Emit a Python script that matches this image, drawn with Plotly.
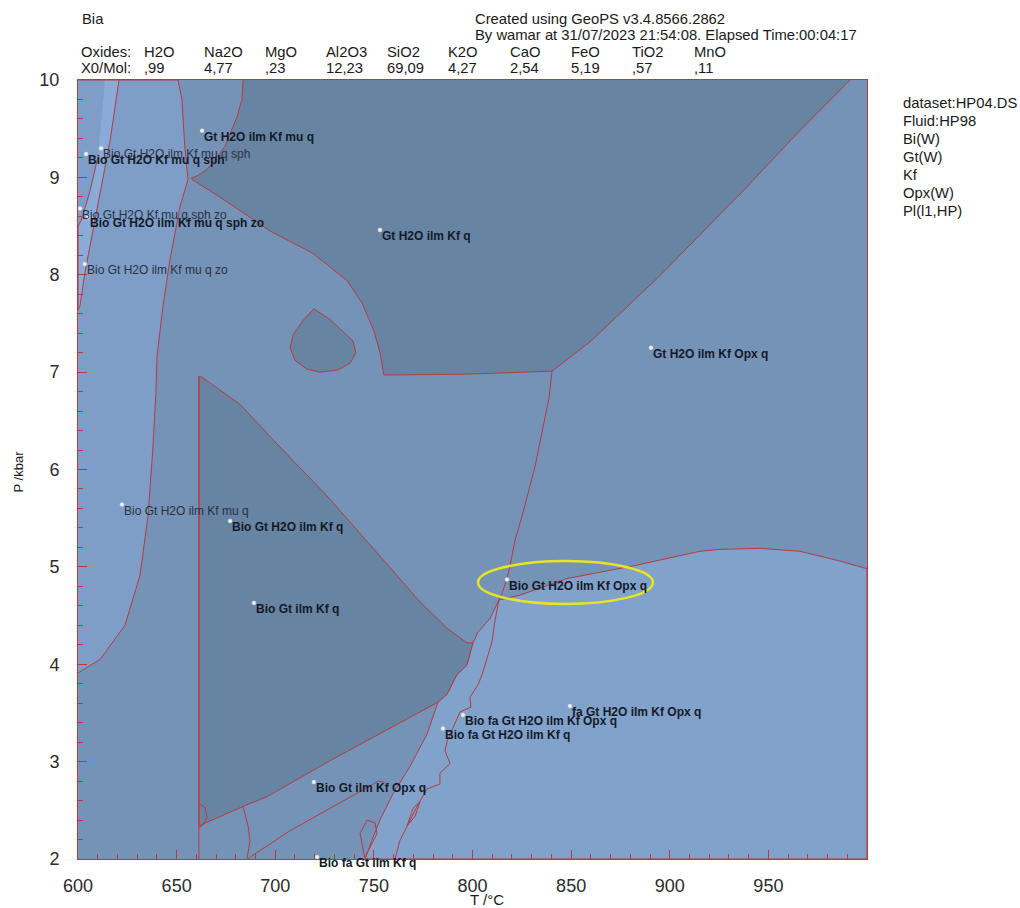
import plotly.graph_objects as go

# ---------------------------------------------------------------
# Pseudosection field boundaries (T in °C, P in kbar)
# ---------------------------------------------------------------
# Bio Gt H2O ilm Kf mu q (low-T field, left of the mu-out curve)
mu_field_T = [600, 650.7, 652.7, 654.2, 655.8, 651.7, 646.6, 643.1, 640.1, 639.5,
              638.0, 635.5, 631.4, 623.8, 611.2, 600]
mu_field_P = [10, 10, 9.80, 9.29, 8.98, 8.70, 8.15, 7.68, 7.17, 6.79,
              6.23, 5.52, 4.91, 4.40, 4.05, 3.91]

# sph-bearing strip near the left margin
sph_strip_T = [613.7, 620.8, 616.2, 611.2, 607.1, 603.5, 601.0, 600, 600, 602.0, 606.1, 610.1]
sph_strip_P = [10, 10, 9.37, 8.83, 8.42, 8.02, 7.68, 7.64, 8.49, 8.58, 8.86, 9.21]

# Gt H2O ilm Kf q (high-P field)
gt_field_T = [683.7, 683.1, 680.6, 677.1, 674.5, 670.5, 665.4, 660.8, 657.3, 659.3,
              669.5, 682.1, 697.3, 719.1, 736.4, 744.0, 750.1, 753.1, 755.1, 798.7,
              840.3, 860.1, 894.0, 937.6, 964.5, 991.4]
gt_field_P = [10, 9.80, 9.62, 9.44, 9.32, 9.21, 9.08, 9.02, 8.99, 8.96,
              8.83, 8.66, 8.45, 8.22, 7.94, 7.71, 7.42, 7.20, 6.97, 6.98,
              7.01, 7.32, 7.97, 8.87, 9.45, 10]

# closed teardrop field below the mu-out reaction
loop_T = [719.6, 714.1, 709.0, 707.5, 710.0, 716.1, 722.7, 731.3, 737.9, 740.9,
          739.4, 734.3, 727.8, 719.6]
loop_P = [7.65, 7.53, 7.38, 7.25, 7.12, 7.03, 7.00, 7.02, 7.09, 7.20,
          7.32, 7.42, 7.54, 7.65]

# Bio Gt ilm Kf q wedge
bio_field_T = [661.9, 682.1, 702.4, 726.2, 753.1, 773.4, 787.1, 797.2, 800.3, 797.2,
               792.1, 787.1, 782.5, 727.8, 695.8, 683.7, 661.3, 661.3]
bio_field_P = [6.96, 6.67, 6.23, 5.73, 5.11, 4.64, 4.37, 4.22, 4.22, 3.99,
               3.89, 3.69, 3.61, 3.01, 2.64, 2.54, 2.34, 6.96]

# fa-bearing field (high T, low P)
fa_field_T = [813.4, 824.1, 847.9, 881.4, 915.3, 925.5, 945.8, 966.0, 986.3, 1000,
              1000, 745.5, 749.0, 753.1, 759.7, 768.3, 776.9, 782.5, 787.1, 792.1,
              797.2, 800.3, 802.8, 808.9, 813.4]
fa_field_P = [4.66, 4.71, 4.88, 5.01, 5.16, 5.18, 5.19, 5.16, 5.06, 4.98,
              2.0, 2.0, 2.19, 2.40, 2.67, 2.95, 3.28, 3.61, 3.69, 3.89,
              3.99, 4.22, 4.33, 4.47, 4.66]

# additional reaction lines
opx_in_T = [840.3, 838.8, 836.8, 831.7, 825.1, 821.5, 819.0, 817.5, 815.0, 813.4]
opx_in_P = [7.01, 6.73, 6.54, 6.03, 5.52, 5.27, 5.01, 4.88, 4.73, 4.66]

bio_out_T = [813.4, 811.4, 809.9, 807.9, 804.8, 802.8, 798.7, 799.2, 793.7, 787.1,
             786.1, 788.6, 783.5, 783.5, 776.9, 771.9, 766.8, 763.2, 760.7]
bio_out_P = [4.66, 4.45, 4.23, 4.10, 3.89, 3.79, 3.66, 3.56, 3.51, 3.21,
             3.11, 2.98, 2.88, 2.77, 2.72, 2.54, 2.34, 2.19, 2.0]

vert_T = [661.3, 661.3]
vert_P = [6.96, 2.0]

low_opx_T = [755.6, 752.1, 748.0, 727.8, 707.5, 688.7, 686.2]
low_opx_P = [2.79, 2.80, 2.75, 2.52, 2.29, 2.04, 2.0]

low_curve_T = [683.7, 686.2, 687.2, 685.7]
low_curve_P = [2.54, 2.34, 2.19, 2.0]

lens_T = [745.5, 743.0, 746.5, 750.6, 751.6, 746.5, 745.5]
lens_P = [2.0, 2.26, 2.40, 2.37, 2.26, 2.06, 2.0]

lens2_T = [766.8, 769.9, 773.4, 770.9, 766.8]
lens2_P = [2.34, 2.52, 2.59, 2.44, 2.34]

small_loop_T = [661.3, 664.3, 665.4, 663.3, 661.3]
small_loop_P = [2.57, 2.53, 2.43, 2.35, 2.32]

# field labels
label_text = ["Gt H2O ilm Kf mu q", "Bio Gt H2O ilm Kf mu q sph", "Bio Gt H2O Kf mu q sph",
              "Bio Gt H2O Kf mu q sph zo", "Bio Gt H2O ilm Kf mu q sph zo",
              "Bio Gt H2O ilm Kf mu q zo", "Gt H2O ilm Kf q", "Gt H2O ilm Kf Opx q",
              "Bio Gt H2O ilm Kf mu q", "Bio Gt H2O ilm Kf q", "Bio Gt ilm Kf q",
              "Bio Gt H2O ilm Kf Opx q", "fa Gt H2O ilm Kf Opx q",
              "Bio fa Gt H2O ilm Kf Opx q", "Bio fa Gt H2O ilm Kf q",
              "Bio Gt ilm Kf Opx q", "Bio fa Gt ilm Kf q"]
label_T = [662.9, 611.7, 604.1, 601.0, 605.1, 603.5, 753.1, 890.5, 622.3, 677.1, 689.2,
           817.5, 849.4, 795.2, 785.0, 719.6, 721.2]
label_P = [9.48, 9.30, 9.24, 8.68, 8.59, 8.11, 8.46, 7.25, 5.64, 5.47, 4.63,
           4.87, 3.57, 3.48, 3.34, 2.79, 2.02]
label_strong = [True, False, True, False, True, False, True, True, False, True, True,
                True, True, True, True, True, True]

oxide_names = ["H2O", "Na2O", "MgO", "Al2O3", "SiO2", "K2O", "CaO", "FeO", "TiO2", "MnO"]
oxide_mol = [",99", "4,77", ",23", "12,23", "69,09", "4,27", "2,54", "5,19", ",57", ",11"]
oxide_px = [142, 202, 263, 324, 385, 446, 508, 569, 630, 692]

solution_models = ["dataset:HP04.DS", "Fluid:HP98", "Bi(W)", "Gt(W)", "Kf", "Opx(W)", "Pl(l1,HP)"]

x_ticks = [600, 650, 700, 750, 800, 850, 900, 950]

# ---------------------------------------------------------------
RED = "#b53b40"
C_DARK = "#6784a2"
C_MED = "#7593b7"
C_LIGHT = "#7e9ec7"
C_LIGHTER = "#8aaad7"
C_FA = "#81a2ca"
FONT = "Liberation Sans, Arial, sans-serif"

W, H = 1020, 908
L, R, T, B = 78, 153, 80, 42
PW, PH = W - L - R, H - T - B


def px(x):
    return (x - L) / PW


def py(y):
    return (H - B - y) / PH


fig = go.Figure()


def field(xs, ys, color):
    fig.add_trace(go.Scatter(x=xs, y=ys, mode="lines", fill="toself", fillcolor=color,
                             line=dict(color=RED, width=1), hoverinfo="skip"))


def line(xs, ys):
    fig.add_trace(go.Scatter(x=xs, y=ys, mode="lines",
                             line=dict(color=RED, width=1), hoverinfo="skip"))


field(mu_field_T, mu_field_P, C_LIGHT)
field(sph_strip_T, sph_strip_P, C_LIGHTER)
field(gt_field_T, gt_field_P, C_DARK)
field(loop_T, loop_P, C_DARK)
field(bio_field_T, bio_field_P, C_DARK)
field(fa_field_T, fa_field_P, C_FA)
line(opx_in_T, opx_in_P)
line(bio_out_T, bio_out_P)
line(vert_T, vert_P)
line(low_opx_T, low_opx_P)
line(low_curve_T, low_curve_P)
line(lens_T, lens_P)
line(lens2_T, lens2_P)
line(small_loop_T, small_loop_P)

# label anchor points
fig.add_trace(go.Scatter(x=label_T, y=label_P, mode="markers",
                         marker=dict(size=4, color="#eef2f8", line=dict(color="#c8d0dc", width=0.5)),
                         hoverinfo="skip", cliponaxis=False))

ann = []
for t, xv, yv, strong in zip(label_text, label_T, label_P, label_strong):
    ann.append(dict(x=xv, y=yv, xref="x", yref="y", text=f"<b>{t}</b>" if strong else t,
                    showarrow=False, xanchor="left", yanchor="top", yshift=3, xshift=0,
                    font=dict(family=FONT, size=12, color="#141a28" if strong else "#2a3145")))

hdr = dict(family=FONT, size=14.8, color="#1a1a1a")
ann.append(dict(x=px(80), y=py(18), xref="paper", yref="paper", text="Bia", showarrow=False,
                xanchor="left", yanchor="middle", font=hdr))
ann.append(dict(x=px(473), y=py(18), xref="paper", yref="paper",
                text="Created using GeoPS v3.4.8566.2862", showarrow=False,
                xanchor="left", yanchor="middle", font=hdr))
ann.append(dict(x=px(473), y=py(35), xref="paper", yref="paper",
                text="By wamar at 31/07/2023 21:54:08. Elapsed Time:00:04:17", showarrow=False,
                xanchor="left", yanchor="middle", font=hdr))
ann.append(dict(x=px(79), y=py(52), xref="paper", yref="paper", text="Oxides:", showarrow=False,
                xanchor="left", yanchor="middle", font=hdr))
ann.append(dict(x=px(79), y=py(68), xref="paper", yref="paper", text="X0/Mol:", showarrow=False,
                xanchor="left", yanchor="middle", font=hdr))
for name, val, xp in zip(oxide_names, oxide_mol, oxide_px):
    ann.append(dict(x=px(xp), y=py(52), xref="paper", yref="paper", text=name, showarrow=False,
                    xanchor="left", yanchor="middle", font=hdr))
    ann.append(dict(x=px(xp), y=py(68), xref="paper", yref="paper", text=val, showarrow=False,
                    xanchor="left", yanchor="middle", font=hdr))
for i, s in enumerate(solution_models):
    ann.append(dict(x=px(901), y=py(103 + 18.2 * i), xref="paper", yref="paper", text=s,
                    showarrow=False, xanchor="left", yanchor="middle", font=hdr))

ann.append(dict(x=px(18), y=py(475), xref="paper", yref="paper", text="P /kbar", textangle=-90,
                showarrow=False, xanchor="center", yanchor="middle",
                font=dict(family=FONT, size=13, color="#1a1a1a")))
ann.append(dict(x=px(487), y=py(907), xref="paper", yref="paper", text="T /°C",
                showarrow=False, xanchor="center", yanchor="middle",
                font=dict(family=FONT, size=15, color="#1a1a1a")))

fig.add_shape(type="circle", xref="x", yref="y", x0=802.8, x1=891.5, y0=4.62, y1=5.06,
              line=dict(color="#e6e424", width=2.5))

axis_common = dict(showgrid=False, zeroline=False, showline=True, linecolor=RED, linewidth=1,
                   mirror=True, ticks="inside", tickcolor=RED, ticklen=9, tickwidth=1,
                   tickfont=dict(family=FONT, size=18, color="#2b2b2b"))

fig.update_layout(
    width=W, height=H,
    margin=dict(l=L, r=R, t=T, b=B),
    paper_bgcolor="white", plot_bgcolor=C_MED,
    showlegend=False,
    annotations=ann,
    xaxis=dict(range=[600, 1000], tickmode="array", tickvals=x_ticks,
               ticklabelstandoff=10,
               minor=dict(dtick=10, tick0=600, ticks="inside", ticklen=5, tickcolor=RED, showgrid=False),
               **axis_common),
    yaxis=dict(range=[2, 10], tickmode="linear", tick0=2, dtick=1,
               ticklabelstandoff=14,
               minor=dict(dtick=0.2, tick0=2, ticks="inside", ticklen=5, tickcolor=RED, showgrid=False),
               **axis_common),
)

fig.write_html("out.html")
